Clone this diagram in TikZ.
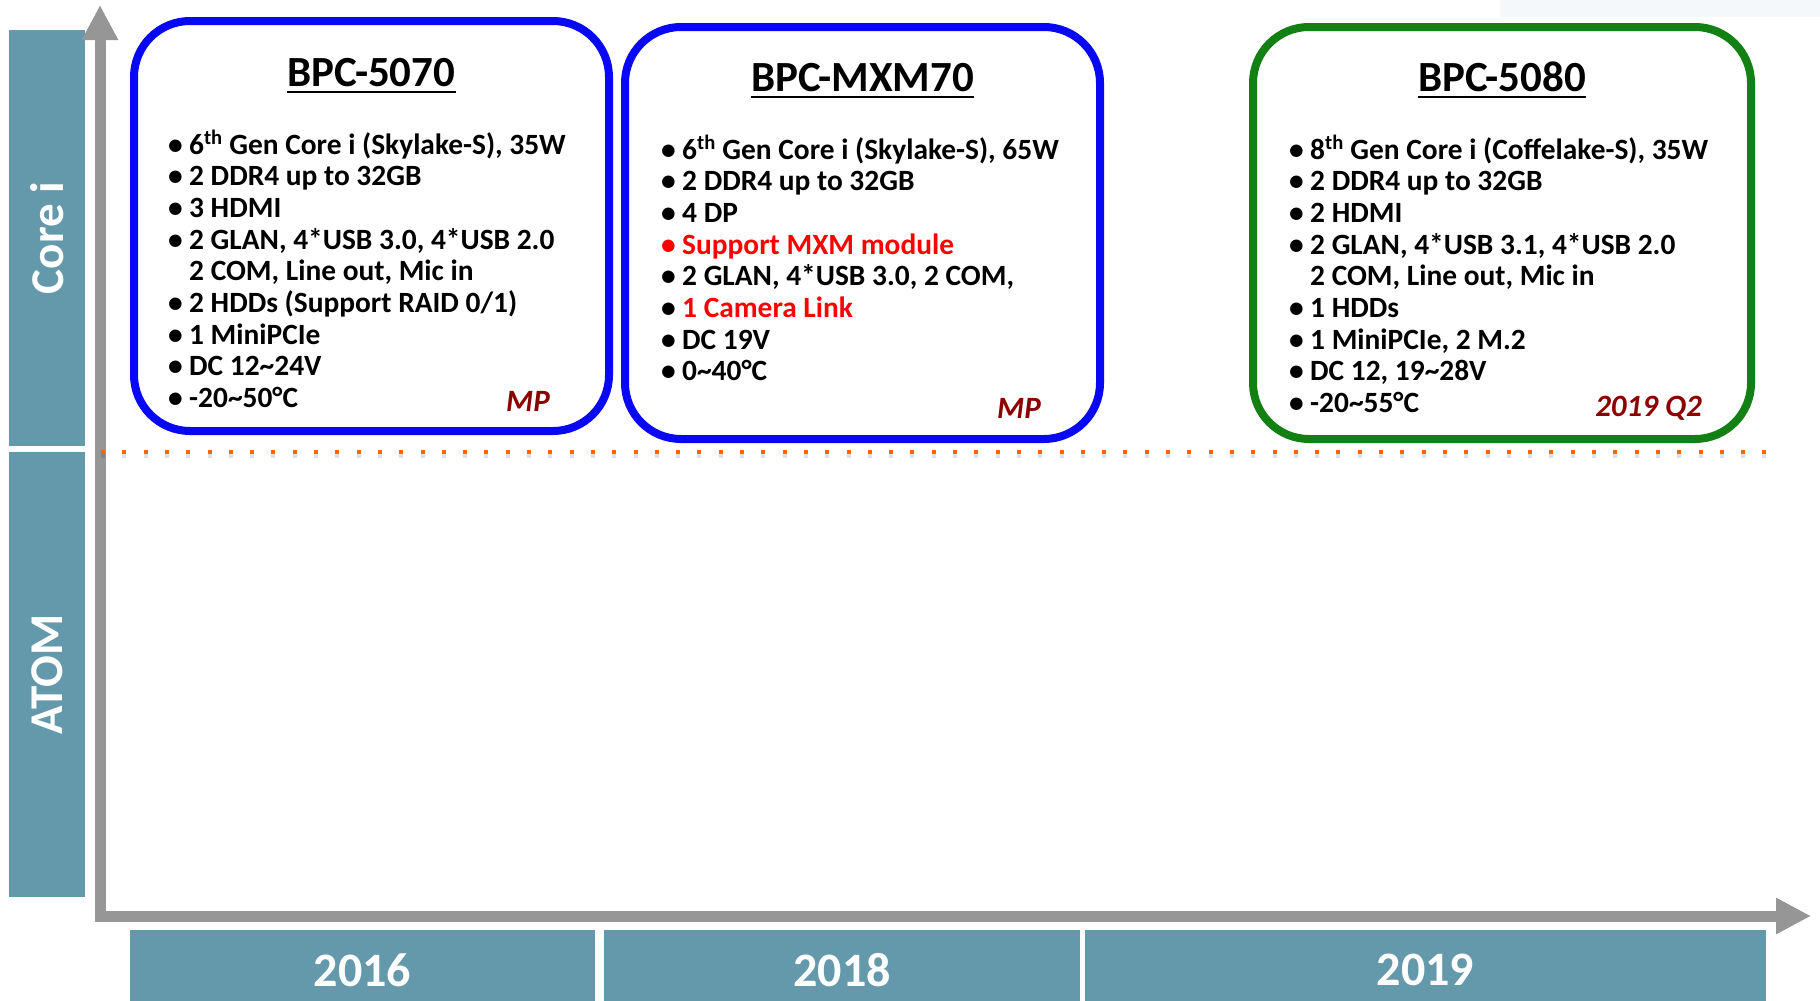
\documentclass[tikz,border=0pt]{standalone}
\usepackage{fontspec}
\setmainfont{Carlito}
\usetikzlibrary{arrows.meta,positioning,calc}
\definecolor{barteal}{RGB}{100,153,171}
\definecolor{axisgray}{RGB}{150,150,150}
\definecolor{boxblue}{RGB}{8,8,245}
\definecolor{boxgreen}{RGB}{18,128,18}
\definecolor{mpred}{RGB}{140,0,0}
\definecolor{sepor}{RGB}{255,102,0}
\definecolor{faint}{RGB}{244,248,251}
\newcommand{\itm}[1]{\makebox[21pt][l]{\textbullet}#1\\}
\newcommand{\ritm}[1]{\color{red}\makebox[21pt][l]{\textbullet}#1\\}
\newcommand{\cnt}[1]{\hspace*{21pt}#1\\}
\newcommand{\tld}{\textasciitilde}

\begin{document}
\begin{tikzpicture}[x=1pt, y=-1pt,
  sidebar/.style={fill=barteal, minimum width=76pt, inner sep=0pt,
    text=white, font=\fontsize{47}{52}\selectfont\bfseries},
  yearbox/.style={fill=barteal, minimum height=80pt, inner sep=0pt,
    text=white, font=\fontsize{48}{52}\selectfont\bfseries},
  specbox/.style={draw=boxblue, line width=8pt, rounded corners=56pt,
    minimum width=475pt, inner sep=0pt},
  ttl/.style={anchor=base, inner sep=0pt,
    font=\fontsize{43}{50}\selectfont\bfseries},
  lst/.style={anchor=base west, inner sep=0pt,
    font=\fontsize{29.4}{31.7}\selectfont\bfseries},
  tag/.style={anchor=base east, inner sep=0pt, text=mpred,
    font=\fontsize{31}{36}\selectfont\bfseries\itshape},
  uline/.style={line width=2.6pt},
  axis/.style={draw=axisgray, line width=11pt,
    {Triangle[length=35pt,width=34pt]}-{Triangle[length=35pt,width=34pt]}},
  sep/.style={draw=sepor, line width=4pt, dash pattern=on 4pt off 17.3pt}]
  \fill[white] (0,0) rectangle (1820,1001);
  \useasboundingbox (0,0) rectangle (1820,1001);
  \fill[faint] (1500,0) rectangle (1820,17);

  \node[sidebar, minimum height=416pt] (CoreI) at (47,238) {\rotatebox{90}{Core i}};
  \node[sidebar, minimum height=445pt] (Atom) at (47,674.5) {\rotatebox{90}{ATOM}};

  \node[yearbox, minimum width=465pt] (Y2016) at (362.5,970) {2016};
  \node[yearbox, minimum width=476pt] (Y2018) at (842,970) {2018};
  \node[yearbox, minimum width=681pt] (Y2019) at (1425.5,970) {2019};

  \coordinate (ytop) at (100,5);
  \coordinate (origin) at (100,916);
  \coordinate (xend) at (1811,916);
  \draw[axis] (ytop) -- (origin) -- (xend);

  \coordinate (sepL) at (101,452);
  \coordinate (sepR) at (1770,452);
  \draw[sep, draw=black, opacity=0.12, line width=6pt] ([yshift=-3pt]sepL) -- ([yshift=-3pt]sepR);
  \draw[sep] (sepL) -- (sepR);

  \node[specbox, minimum height=410pt] (B5070) at (371.5,226) {};
  \node[specbox, minimum height=412pt] (BMXM70) at (862.5,233) {};
  \node[specbox, draw=boxgreen, minimum width=498pt, minimum height=412pt] (B5080) at (1502,233) {};

  \node[ttl] (T5070) at ($(B5070.north)+(0,69)$) {BPC-5070};
  \node[ttl] (TMXM70) at ($(BMXM70.north)+(0,68)$) {BPC-MXM70};
  \node[ttl] (T5080) at ($(B5080.north)+(0,68)$) {BPC-5080};
  \foreach \t in {T5070,TMXM70,T5080}
    \draw[uline] ([yshift=-6pt]\t.base west) -- ([yshift=-6pt]\t.base east);

  \node[lst] (L5070) at ($(B5070.north west)+(38,137)$) {\begin{tabular}[t]{@{}l@{}}
    \itm{6\textsuperscript{th} Gen Core i (Skylake-S), 35W}
    \itm{2 DDR4 up to 32GB}
    \itm{3 HDMI}
    \itm{2 GLAN, 4*USB 3.0, 4*USB 2.0}
    \cnt{2 COM, Line out, Mic in}
    \itm{2 HDDs (Support RAID 0/1)}
    \itm{1 MiniPCIe}
    \itm{DC 12\tld 24V}
    \itm{-20\tld 50°C}
  \end{tabular}};
  \node[lst] (LMXM70) at ($(BMXM70.north west)+(40,136)$) {\begin{tabular}[t]{@{}l@{}}
    \itm{6\textsuperscript{th} Gen Core i (Skylake-S), 65W}
    \itm{2 DDR4 up to 32GB}
    \itm{4 DP}
    \ritm{Support MXM module}
    \itm{2 GLAN, 4*USB 3.0, 2 COM,}
    \makebox[21pt][l]{\textbullet}\color{red}1 Camera Link\\
    \itm{DC 19V}
    \itm{0\tld 40°C}
  \end{tabular}};
  \node[lst] (L5080) at ($(B5080.north west)+(40,136)$) {\begin{tabular}[t]{@{}l@{}}
    \itm{8\textsuperscript{th} Gen Core i (Coffelake-S), 35W}
    \itm{2 DDR4 up to 32GB}
    \itm{2 HDMI}
    \itm{2 GLAN, 4*USB 3.1, 4*USB 2.0}
    \cnt{2 COM, Line out, Mic in}
    \itm{1 HDDs}
    \itm{1 MiniPCIe, 2 M.2}
    \itm{DC 12, 19\tld 28V}
    \itm{-20\tld 55°C}
  \end{tabular}};

  \node[tag] (S5070) at ($(B5070.south east)+(-63,-24)$) {MP};
  \node[tag] (SMXM70) at ($(BMXM70.south east)+(-63,-25)$) {MP};
  \node[tag] (S5080) at ($(B5080.south east)+(-53,-27)$) {2019 Q2};
\end{tikzpicture}
\end{document}
